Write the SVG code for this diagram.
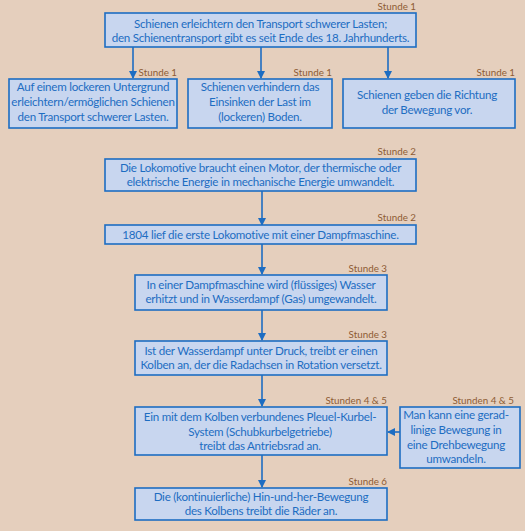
<svg xmlns="http://www.w3.org/2000/svg" width="525" height="531" viewBox="0 0 525 531">
<defs>
<style>
.bg{fill:#E5CFBD}
.box{fill:#C8D6EF;stroke:#1D6DC2;stroke-width:1.6}
.t{font-family:Lato,"Liberation Sans",sans-serif;font-size:11.6px;letter-spacing:-0.25px;fill:#1D6DC2;text-anchor:middle}
.s{font-family:Lato,"Liberation Sans",sans-serif;font-size:9.8px;fill:#8E5C34;text-anchor:end}
.c{stroke:#1D6DC2;stroke-width:1.6;fill:none;marker-end:url(#ah)}
</style>
<marker id="ah" markerWidth="8" markerHeight="8" refX="7" refY="4" orient="auto" markerUnits="userSpaceOnUse">
<path d="M0,0 L8,4 L0,8 Z" fill="#1D6DC2"/>
</marker>
</defs>
<rect class="bg" x="0" y="0" width="525" height="531"/>
<g id="connectors">
<path class="c" d="M133,47 V78"/>
<path class="c" d="M261,47 V78"/>
<path class="c" d="M388,47 V78"/>
<path class="c" d="M262,191 V225"/>
<path class="c" d="M262,244 V274"/>
<path class="c" d="M262,310 V340"/>
<path class="c" d="M262,375 V406"/>
<path class="c" d="M262,455 V487"/>
<path class="c" d="M400,432 H388"/>
</g>
<g id="n1">
<text class="s" x="416" y="10">Stunde 1</text>
<rect class="box" x="105" y="13" width="311" height="34"/>
<text class="t" x="260.5" y="28">Schienen erleichtern den Transport schwerer Lasten;</text>
<text class="t" x="260.5" y="42">den Schienentransport gibt es seit Ende des 18. Jahrhunderts.</text>
</g>
<g id="n2">
<text class="s" x="177" y="76">Stunde 1</text>
<rect class="box" x="9" y="79" width="168" height="49"/>
<text class="t" x="93" y="91">Auf einem lockeren Untergrund</text>
<text class="t" x="93" y="106">erleichtern/ermöglichen Schienen</text>
<text class="t" x="93" y="121">den Transport schwerer Lasten.</text>
</g>
<g id="n3">
<text class="s" x="332" y="76">Stunde 1</text>
<rect class="box" x="188" y="79" width="144" height="49"/>
<text class="t" x="260" y="91">Schienen verhindern das</text>
<text class="t" x="260" y="106">Einsinken der Last im</text>
<text class="t" x="260" y="121">(lockeren) Boden.</text>
</g>
<g id="n4">
<text class="s" x="515" y="76">Stunde 1</text>
<rect class="box" x="343" y="79" width="172" height="49"/>
<text class="t" x="427" y="99">Schienen geben die Richtung</text>
<text class="t" x="427" y="114">der Bewegung vor.</text>
</g>
<g id="n5">
<text class="s" x="416" y="155">Stunde 2</text>
<rect class="box" x="105" y="159" width="311" height="32"/>
<text class="t" x="260.5" y="172">Die Lokomotive braucht einen Motor, der thermische oder</text>
<text class="t" x="260.5" y="186">elektrische Energie in mechanische Energie umwandelt.</text>
</g>
<g id="n6">
<text class="s" x="416" y="221">Stunde 2</text>
<rect class="box" x="105" y="225" width="311" height="19"/>
<text class="t" x="260.5" y="239">1804 lief die erste Lokomotive mit einer Dampfmaschine.</text>
</g>
<g id="n7">
<text class="s" x="387" y="272">Stunde 3</text>
<rect class="box" x="135" y="275" width="252" height="35"/>
<text class="t" x="261" y="289">In einer Dampfmaschine wird (flüssiges) Wasser</text>
<text class="t" x="261" y="303">erhitzt und in Wasserdampf (Gas) umgewandelt.</text>
</g>
<g id="n8">
<text class="s" x="387" y="338">Stunde 3</text>
<rect class="box" x="135" y="341" width="252" height="34"/>
<text class="t" x="261" y="355">Ist der Wasserdampf unter Druck, treibt er einen</text>
<text class="t" x="261" y="369">Kolben an, der die Radachsen in Rotation versetzt.</text>
</g>
<g id="n9">
<text class="s" x="387" y="404">Stunden 4 &amp; 5</text>
<rect class="box" x="135" y="407" width="252" height="48"/>
<text class="t" x="260" y="421">Ein mit dem Kolben verbundenes Pleuel-Kurbel-</text>
<text class="t" x="260" y="436">System (Schubkurbelgetriebe)</text>
<text class="t" x="260" y="450">treibt das Antriebsrad an.</text>
</g>
<g id="n10">
<text class="s" x="514" y="404">Stunden 4 &amp; 5</text>
<rect class="box" x="400" y="407" width="120" height="61"/>
<text class="t" x="456" y="419">Man kann eine gerad-</text>
<text class="t" x="456" y="434">linige Bewegung in</text>
<text class="t" x="456" y="449">eine Drehbewegung</text>
<text class="t" x="456" y="463">umwandeln.</text>
</g>
<g id="n11">
<text class="s" x="387" y="485">Stunde 6</text>
<rect class="box" x="135" y="488" width="252" height="32"/>
<text class="t" x="261" y="501">Die (kontinuierliche) Hin-und-her-Bewegung</text>
<text class="t" x="261" y="515">des Kolbens treibt die Räder an.</text>
</g>
</svg>
